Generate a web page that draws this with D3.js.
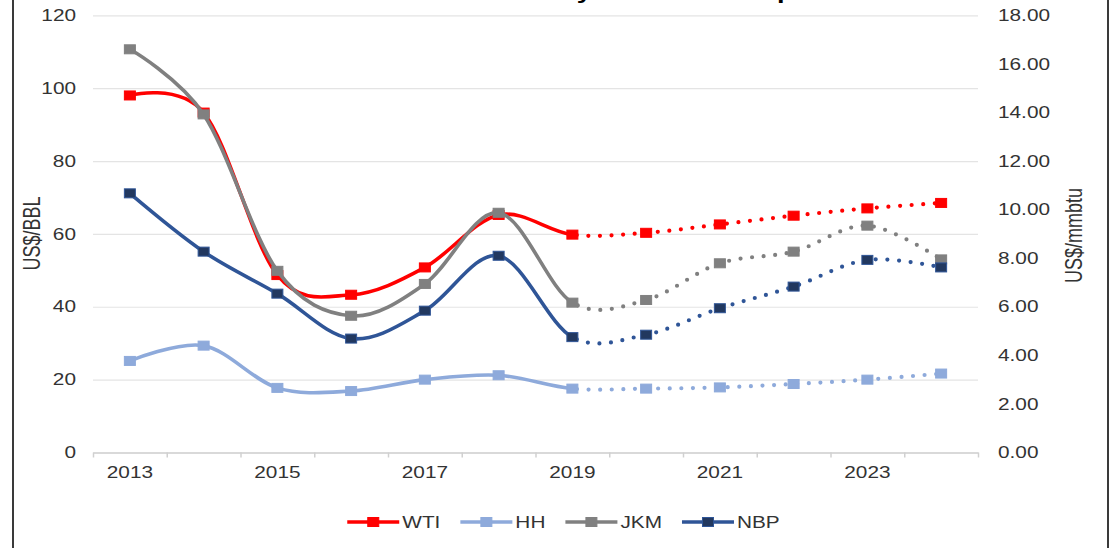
<!DOCTYPE html>
<html>
<head>
<meta charset="utf-8">
<script src="https://cdn.jsdelivr.net/npm/d3@7"></script>
<style>
  body { margin: 0; background: #fff; }
  text { font-family: "Liberation Sans", Arial, sans-serif; }
</style>
</head>
<body>
<div id="chart"></div>
<script>
// data
var years = [2013, 2014, 2015, 2016, 2017, 2018, 2019, 2020, 2021, 2022, 2023, 2024];
var wti = [98.0, 93.3, 48.7, 43.3, 50.8, 65.2, 59.8, 60.3, 62.6, 65.0, 67.0, 68.5];   // US$/BBL
var hh  = [3.77, 4.40, 2.66, 2.53, 3.00, 3.18, 2.63, 2.63, 2.68, 2.82, 3.00, 3.25];  // US$/mmbtu
var jkm = [16.6, 13.92, 7.48, 5.63, 6.94, 9.87, 6.17, 6.28, 7.79, 8.27, 9.34, 7.95];
var nbp = [10.67, 8.27, 6.54, 4.69, 5.84, 8.10, 4.75, 4.85, 5.94, 6.83, 7.93, 7.62];
var leftTicks = [0, 20, 40, 60, 80, 100, 120];
var rightTicks = [0, 2, 4, 6, 8, 10, 12, 14, 16, 18];
var yearLabels = [2013, 2015, 2017, 2019, 2021, 2023];
var lastActual = 2019;   // solid up to here, dotted after

var width = 1117;
var height = 548;
var sx = 1.3;   // the reference is stretched sideways, text too

var svg = d3.select("#chart")
    .append("svg")
    .attr("width", width)
    .attr("height", height);

svg.append("rect").attr("width", width).attr("height", height).attr("fill", "#fff");

var x = d3.scaleBand().domain(years).range([93, 978]);
var xEdge = d3.scaleLinear().domain([0, years.length]).range([93, 978]);
var yL = d3.scaleLinear().domain([0, 120]).range([452.5, 15.3]);
var yR = d3.scaleLinear().domain([0, 18]).range([452.5, 15.3]);
var cx = function(yr) { return x(yr) + x.bandwidth() / 2; };

// title, only its descenders show above the frame
svg.append("g")
    .attr("transform", "translate(310,-1.5)")
  .append("text")
    .attr("transform", "scale(" + sx + ",1)")
    .attr("font-size", "21px")
    .attr("font-weight", "bold")
    .attr("fill", "#000")
    .text("Historical Commodity and Forecast prices");

// gridlines
var grid = svg.append("g")
    .attr("transform", "translate(93,0)")
    .call(d3.axisLeft(yL).tickValues(leftTicks).tickSize(-(978 - 93)).tickFormat(""));
grid.select(".domain").remove();
grid.selectAll("line").attr("stroke", "#e4e4e4").attr("stroke-width", 1.2);

// left axis labels
var ax1 = svg.append("g")
    .attr("transform", "translate(93,0)")
    .call(d3.axisLeft(yL).tickValues(leftTicks).tickSize(0).tickPadding(17));
ax1.select(".domain").remove();
ax1.selectAll("text")
    .attr("x", -17 / sx)
    .attr("transform", "scale(" + sx + ",1)")
    .attr("font-size", "16px")
    .attr("fill", "#333");

// right axis labels
var ax2 = svg.append("g")
    .attr("transform", "translate(978,0)")
    .call(d3.axisRight(yR).tickValues(rightTicks).tickSize(0).tickFormat(d3.format(".2f")));
ax2.select(".domain").remove();
ax2.selectAll("text")
    .attr("x", 20 / sx)
    .attr("transform", "scale(" + sx + ",1)")
    .attr("font-size", "16px")
    .attr("fill", "#333");

// x axis: line + ticks between categories
var axE = svg.append("g")
    .attr("transform", "translate(0,452.5)")
    .call(d3.axisBottom(xEdge).tickValues(d3.range(years.length + 1)).tickSize(5).tickSizeOuter(0).tickFormat(""));
axE.select(".domain").attr("stroke", "#d0d0d0").attr("stroke-width", 1.5);
axE.selectAll("line").attr("stroke", "#d0d0d0").attr("stroke-width", 1.5);

var axB = svg.append("g")
    .attr("transform", "translate(0,452.5)")
    .call(d3.axisBottom(x).tickValues(yearLabels).tickSize(0));
axB.select(".domain").remove();
axB.selectAll("text")
    .attr("y", 25.5)
    .attr("dy", 0)
    .attr("transform", "scale(" + sx + ",1)")
    .attr("font-size", "16px")
    .attr("fill", "#333");

// axis titles
svg.append("text")
    .attr("transform", "translate(40,233.5) rotate(-90) scale(1," + sx + ")")
    .attr("text-anchor", "middle")
    .attr("font-size", "18px")
    .attr("fill", "#333")
    .text("US$/BBL");

svg.append("text")
    .attr("transform", "translate(1082,235.5) rotate(-90) scale(1," + sx + ")")
    .attr("text-anchor", "middle")
    .attr("font-size", "18px")
    .attr("fill", "#333")
    .text("US$/mmbtu");

// clip regions for the actual (solid) and forecast (dotted) parts
var defs = svg.append("defs");
defs.append("clipPath").attr("id", "clip-solid")
  .append("rect")
    .attr("x", 0).attr("y", 0)
    .attr("width", cx(lastActual)).attr("height", height);
defs.append("clipPath").attr("id", "clip-dot")
  .append("rect")
    .attr("x", cx(lastActual)).attr("y", 0)
    .attr("width", width - cx(lastActual)).attr("height", height);

var series = [
  {name: "WTI", values: wti, y: yL, color: "#ff0000", fill: "#ff0000", edge: "#ff0000"},
  {name: "HH",  values: hh,  y: yR, color: "#8eaadb", fill: "#8eaadb", edge: "#8eaadb"},
  {name: "JKM", values: jkm, y: yR, color: "#808080", fill: "#808080", edge: "#808080"},
  {name: "NBP", values: nbp, y: yR, color: "#2f5597", fill: "#22385f", edge: "#2f5597"}
];

series.forEach(function(s) {
  var line = d3.line()
      .x(function(d, i) { return cx(years[i]); })
      .y(function(d) { return s.y(d); })
      .curve(d3.curveCatmullRom.alpha(0));

  var g = svg.append("g").attr("class", "series");

  g.append("path")
      .attr("d", line(s.values))
      .attr("clip-path", "url(#clip-solid)")
      .attr("fill", "none")
      .attr("stroke", s.color)
      .attr("stroke-width", 3.6);

  g.append("path")
      .attr("d", line(s.values))
      .attr("clip-path", "url(#clip-dot)")
      .attr("fill", "none")
      .attr("stroke", s.color)
      .attr("stroke-width", 4.2)
      .attr("stroke-linecap", "round")
      .attr("stroke-dasharray", "0 11.6");

  g.selectAll("rect")
    .data(s.values)
    .enter().append("rect")
      .attr("x", function(d, i) { return cx(years[i]) - 5.5; })
      .attr("y", function(d) { return s.y(d) - 4.5; })
      .attr("width", 11)
      .attr("height", 9)
      .attr("fill", s.fill)
      .attr("stroke", s.edge)
      .attr("stroke-width", 1);
});

// legend
var legend = svg.append("g").attr("transform", "translate(0,522)");
var pos = 0;
series.forEach(function(s) {
  var item = legend.append("g").attr("transform", "translate(" + pos + ",0)");
  item.append("line")
      .attr("x1", 0).attr("x2", 52)
      .attr("stroke", s.color).attr("stroke-width", 3.6);
  item.append("rect")
      .attr("x", 26 - 5.5).attr("y", -4.5)
      .attr("width", 11).attr("height", 9)
      .attr("fill", s.fill).attr("stroke", s.edge);
  var t = item.append("text")
      .attr("x", 55 / sx)
      .attr("dy", "0.35em")
      .attr("transform", "scale(" + sx + ",1)")
      .attr("font-size", "16px")
      .attr("fill", "#333")
      .text(s.name);
  pos += 55 + t.node().getComputedTextLength() * sx + 20;
});
var legendW = pos - 20;
legend.attr("transform", "translate(" + (563.5 - legendW / 2) + ",522)");

// chart frame
svg.append("rect")
    .attr("x", 13).attr("y", -5)
    .attr("width", 1108 - 13).attr("height", height + 10)
    .attr("fill", "none")
    .attr("stroke", "#3a3a3a")
    .attr("stroke-width", 2);
</script>
</body>
</html>
